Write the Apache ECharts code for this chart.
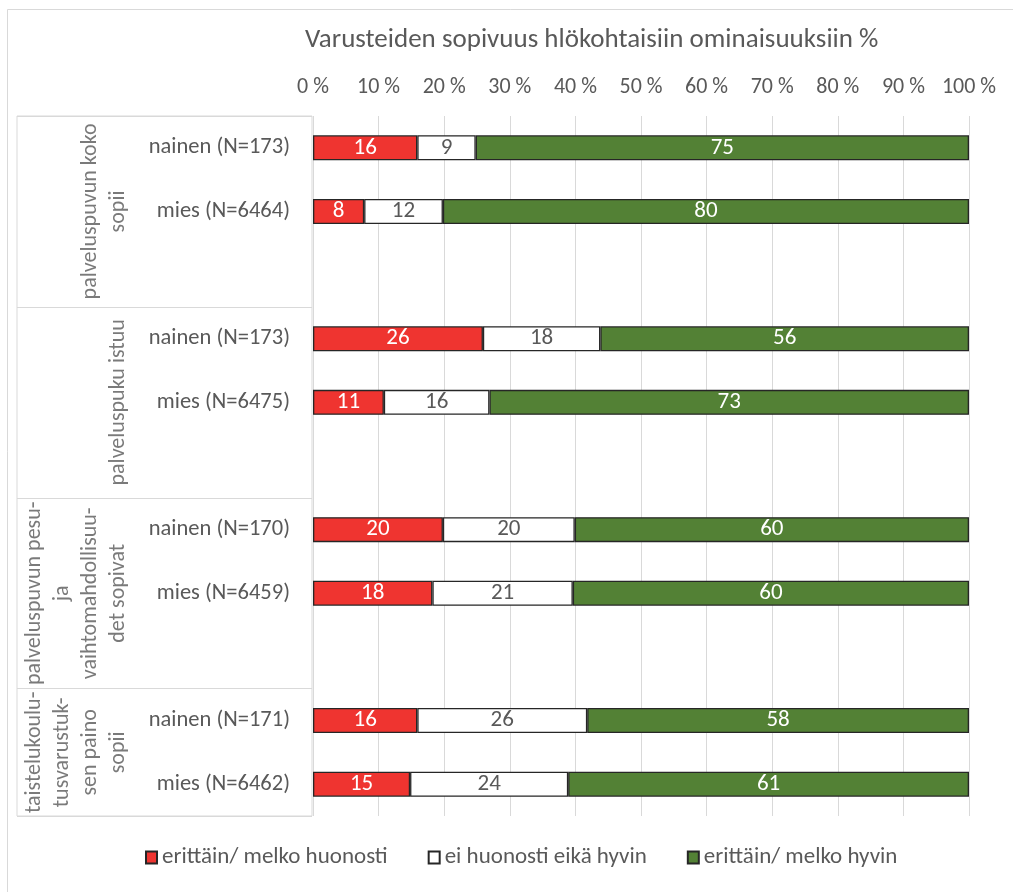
<!DOCTYPE html>
<html>
<head>
<meta charset="utf-8">
<script src="https://cdn.jsdelivr.net/npm/echarts@6/dist/echarts.min.js"></script>
<style>
  html, body { margin: 0; padding: 0; background: #fff; }
  #main { width: 1013px; height: 892px; }
</style>
</head>
<body>
<div id="main"></div>
<script>
// rivit ylhäältä alas, tyhjä rivi ryhmien välissä
var rowLabels = ['nainen (N=173)', 'mies (N=6464)', '', 'nainen (N=173)', 'mies (N=6475)', ' ',
                 'nainen (N=170)', 'mies (N=6459)', '  ', 'nainen (N=171)', 'mies (N=6462)'];
var huonosti = [15.9, 7.8, null, 25.9, 10.8, null, 19.8, 18.2, null, 15.9, 14.8];
var keski    = [8.9, 12.0, null, 17.9, 16.1, null, 20.1, 21.4, null, 25.9, 24.1];
var hyvin    = [75.2, 80.2, null, 56.2, 73.1, null, 60.1, 60.4, null, 58.2, 61.1];
var seriesNames = ['erittäin/ melko huonosti', 'ei huonosti eikä hyvin', 'erittäin/ melko hyvin'];
var groupNames = ['palveluspuvun koko\nsopii', 'palveluspuku istuu',
                  'palveluspuvun pesu-\nja\nvaihtomahdollisuu-\ndet sopivat',
                  'taistelukoulu-\ntusvarustuk-\nsen paino\nsopii'];
var groupRows = [3, 3, 3, 2];   // montako riviä kussakin ryhmässä
var xTicks = [0, 100, 10];

var FONT = 'Carlito, Calibri, "Open Sans", sans-serif';
var GREY = '#595959';
var LINE = '#d9d9d9';

// ryhmien keskikohdat rivi-indekseinä
var groupPos = [];
var acc = 0;
for (var g = 0; g < groupNames.length; g++) {
    groupPos.push([0.39, acc + groupRows[g] / 2]);
    acc += groupRows[g];
}

var chart = echarts.init(document.getElementById('main'));

function barSeries(name, data, color, labelColor) {
    return {
        name: name,
        type: 'bar',
        stack: 'all',
        xAxisIndex: 0,
        yAxisIndex: 0,
        barWidth: 25,
        data: data,
        itemStyle: { color: color, borderColor: '#262626', borderWidth: 1.3 },
        label: {
            show: true,
            position: 'inside',
            color: labelColor,
            fontFamily: FONT,
            fontSize: 23,
            formatter: function (p) { return Math.round(p.value); }
        }
    };
}

var option = {
    backgroundColor: '#fff',
    animation: false,
    title: {
        text: 'Varusteiden sopivuus hlökohtaisiin ominaisuuksiin %',
        left: 300,
        top: 22,
        textStyle: { color: GREY, fontFamily: FONT, fontSize: 27, fontWeight: 'normal' }
    },
    legend: {
        bottom: 18,
        left: 140,
        itemWidth: 11,
        itemHeight: 12,
        itemGap: 40,
        icon: 'rect',
        data: seriesNames,
        textStyle: { color: GREY, fontFamily: FONT, fontSize: 23 }
    },
    graphic: [{
        type: 'rect',
        left: 5, top: 7,
        shape: { width: 1100, height: 1000 },
        style: { fill: 'none', stroke: LINE, lineWidth: 1 },
        silent: true
    }],
    grid: [
        { left: 313, right: 44, top: 116, height: 700 },
        { left: 17, width: 295, top: 116, height: 700, show: true, borderColor: LINE, borderWidth: 1, backgroundColor: 'transparent' }
    ],
    xAxis: [
        {
            gridIndex: 0, type: 'value', position: 'top',
            min: xTicks[0], max: xTicks[1], interval: xTicks[2],
            axisLine: { show: false }, axisTick: { show: false },
            splitLine: { show: true, lineStyle: { color: LINE, width: 1 } },
            axisLabel: { formatter: '{value} %', color: GREY, fontFamily: FONT, fontSize: 22, margin: 18 }
        },
        { gridIndex: 1, type: 'value', min: 0, max: 1, show: false }
    ],
    yAxis: [
        {
            gridIndex: 0, type: 'category', inverse: true, data: rowLabels,
            axisLine: { show: false }, axisTick: { show: false },
            axisLabel: { color: GREY, fontFamily: FONT, fontSize: 22.5, margin: 23 }
        },
        {
            gridIndex: 1, type: 'category', inverse: true, data: rowLabels,
            axisLine: { show: false }, axisTick: { show: false }, axisLabel: { show: false },
            splitLine: {
                show: true,
                interval: function (i) { return i % 3 === 0; },
                lineStyle: { color: LINE, width: 1 }
            }
        },
        { gridIndex: 1, type: 'value', inverse: true, min: 0, max: rowLabels.length, show: false }
    ],
    series: [
        barSeries(seriesNames[0], huonosti, '#ef3430', '#ffffff'),
        barSeries(seriesNames[1], keski, '#ffffff', GREY),
        barSeries(seriesNames[2], hyvin, '#538135', '#ffffff'),
        {
            type: 'scatter',
            xAxisIndex: 1,
            yAxisIndex: 2,
            symbolSize: 0,
            silent: true,
            data: groupPos.map(function (p, i) { return { value: p, name: groupNames[i] }; }),
            label: {
                show: true,
                position: 'inside',
                rotate: 90,
                align: 'center',
                verticalAlign: 'bottom',
                lineHeight: 28,
                color: GREY,
                fontFamily: FONT,
                fontSize: 22,
                formatter: function (p) { return p.name; }
            }
        }
    ]
};

chart.setOption(option);
</script>
</body>
</html>
